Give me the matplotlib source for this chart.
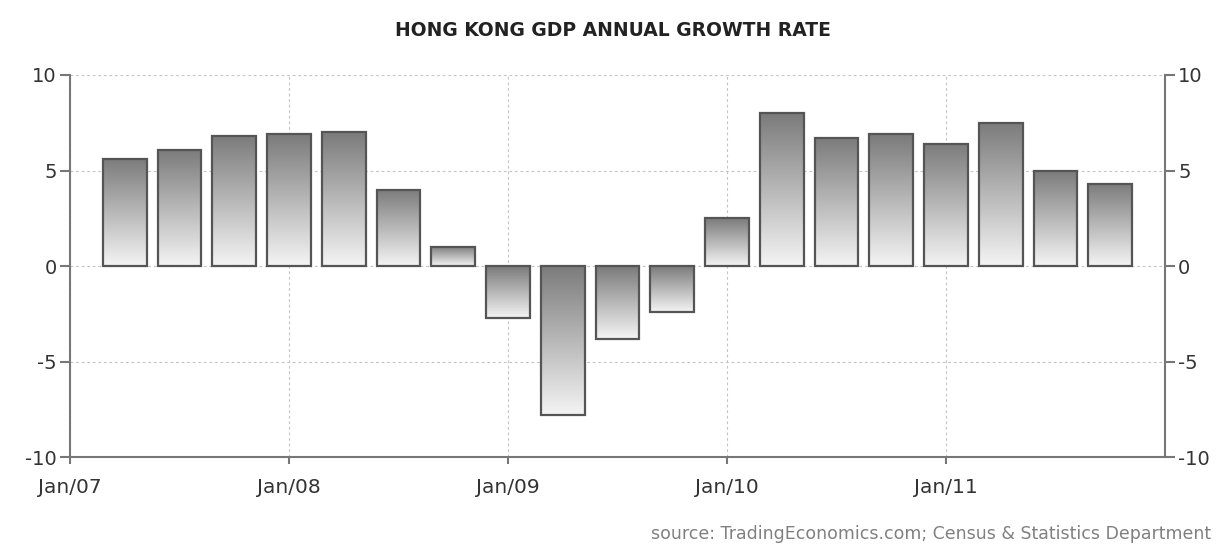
import numpy as np
import matplotlib
matplotlib.use("Agg")
from matplotlib import pyplot as plt

plt.rcParams['axes.unicode_minus'] = False

# quarterly data, Q1 2007 .. Q3 2011 (plotted at end of each quarter)
quarters = ["2007Q1", "2007Q2", "2007Q3", "2007Q4",
            "2008Q1", "2008Q2", "2008Q3", "2008Q4",
            "2009Q1", "2009Q2", "2009Q3", "2009Q4",
            "2010Q1", "2010Q2", "2010Q3", "2010Q4",
            "2011Q1", "2011Q2", "2011Q3"]
growth = [5.6, 6.1, 6.8, 6.9,
          7.0, 4.0, 1.0, -2.7,
          -7.8, -3.8, -2.4, 2.5,
          8.0, 6.7, 6.9, 6.4,
          7.5, 5.0, 4.3]
tick_labels = ["Jan/07", "Jan/08", "Jan/09", "Jan/10", "Jan/11"]

fig = plt.figure(figsize=(12.18, 5.51), dpi=100)
ax = fig.add_axes([0.0575, 0.17, 0.899, 0.694])

# months since Jan 2007
xpos = [3 * (i + 1) for i in range(len(quarters))]
width = 2.4

grad = np.linspace(0, 1, 256).reshape(-1, 1)
cmap = matplotlib.colors.LinearSegmentedColormap.from_list("g", ["#7b7b7b", "#f4f4f4"])

for x, v in zip(xpos, growth):
    lo, hi = min(0, v), max(0, v)
    bar = ax.bar(x, v, width=width, color="none", edgecolor="#555555", linewidth=1.6, zorder=3)
    im = ax.imshow(grad, cmap=cmap, aspect="auto", extent=(x - width / 2, x + width / 2, lo, hi),
                   origin="upper", zorder=2)
    im.set_clip_path(bar.patches[0])

ax.set_xlim(0, 60)
ax.set_ylim(-10, 10)
ax.set_xticks([0, 12, 24, 36, 48])
ax.set_xticklabels(tick_labels)
ax.set_yticks([-10, -5, 0, 5, 10])

ax.grid(True, color="#c4c4c4", linestyle=(0, (2.5, 2.5)), linewidth=0.8, zorder=0)
ax.set_axisbelow(True)

for s in ["left", "right", "bottom"]:
    ax.spines[s].set_color("#777777")
    ax.spines[s].set_linewidth(1.5)
ax.spines["top"].set_visible(False)

ax.tick_params(axis="y", which="both", left=True, right=True, labelleft=True, labelright=True,
               direction="out", length=7.5, width=1.5, color="#777777", labelsize=14,
               labelcolor="#333333", pad=2)
ax.tick_params(axis="x", direction="out", length=5, width=1.5, color="#777777", labelsize=14.5,
               labelcolor="#333333", pad=10)

fig.text(0.503, 0.945, "HONG KONG GDP ANNUAL GROWTH RATE", ha="center", va="center",
         fontsize=13.5, fontweight="bold", color="#222222")
fig.text(0.994, 0.03, "source: TradingEconomics.com; Census & Statistics Department",
         ha="right", va="center", fontsize=12.5, color="#808080")

plt.savefig("out.png", dpi=100)
